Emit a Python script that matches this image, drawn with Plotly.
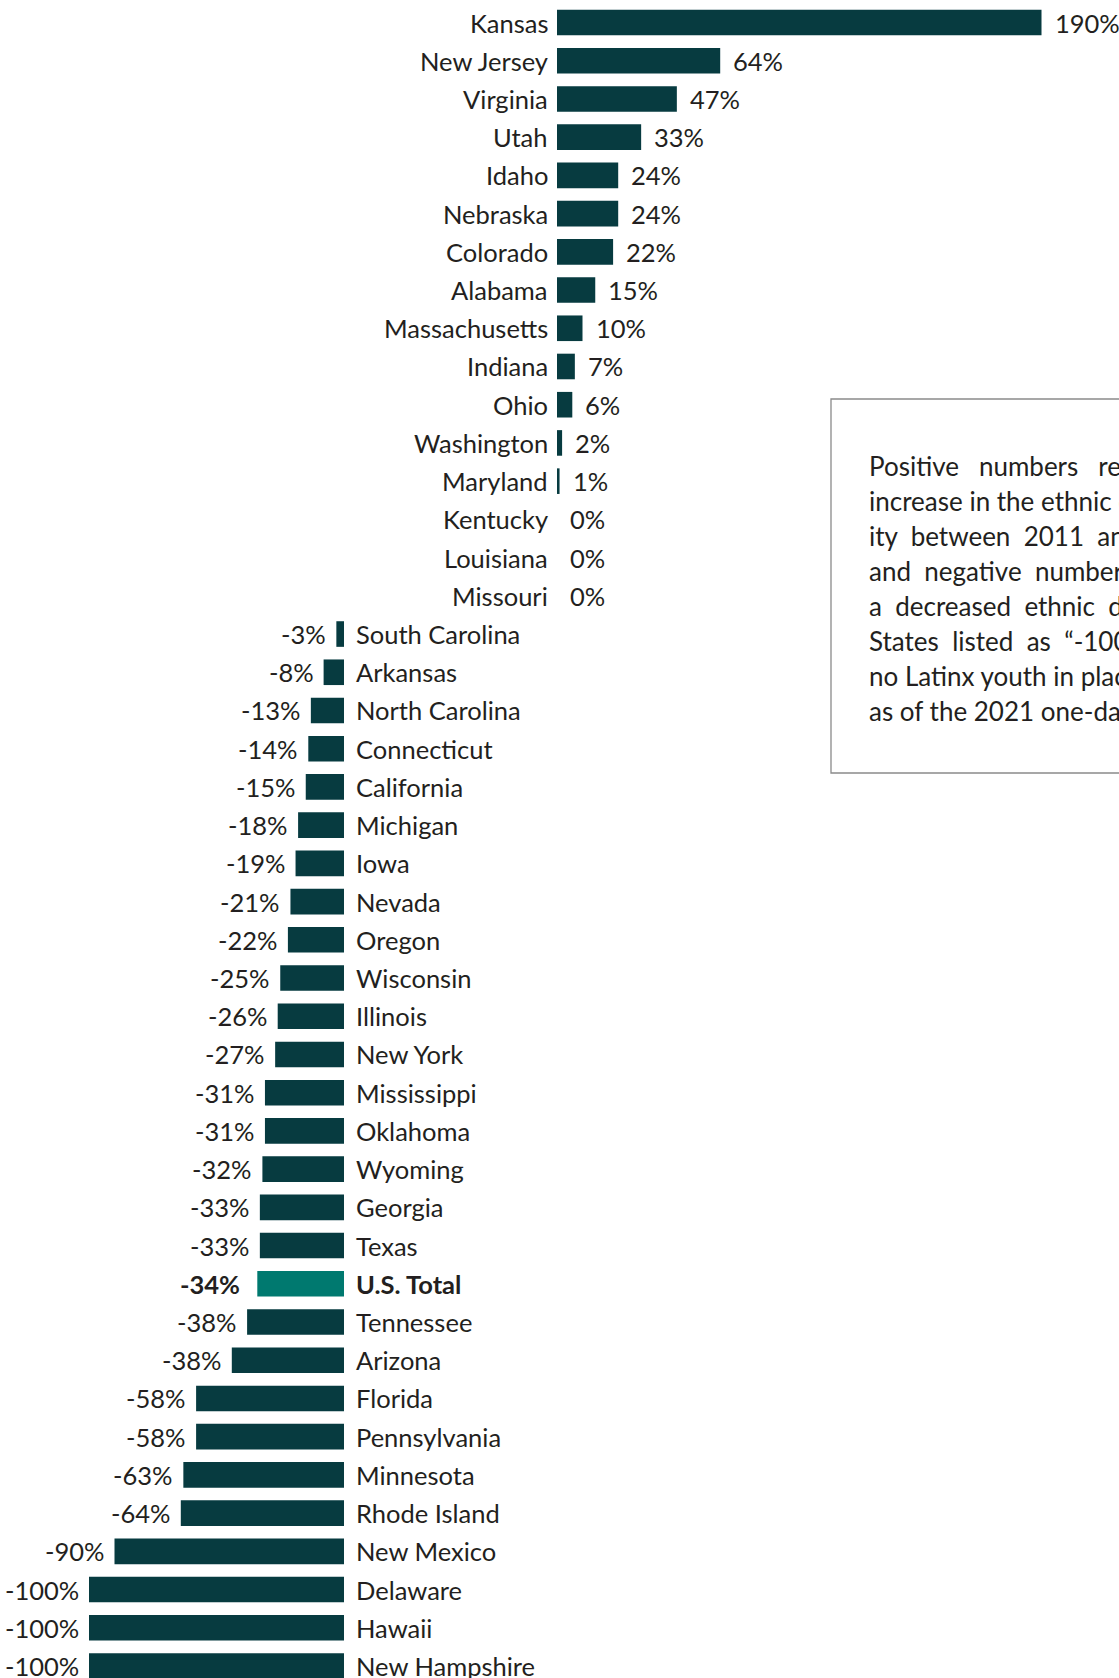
import plotly.graph_objects as go

# ---------------- data ----------------
states = ["Kansas", "New Jersey", "Virginia", "Utah", "Idaho", "Nebraska", "Colorado",
          "Alabama", "Massachusetts", "Indiana", "Ohio", "Washington", "Maryland",
          "Kentucky", "Louisiana", "Missouri",
          "South Carolina", "Arkansas", "North Carolina", "Connecticut", "California",
          "Michigan", "Iowa", "Nevada", "Oregon", "Wisconsin", "Illinois", "New York",
          "Mississippi", "Oklahoma", "Wyoming", "Georgia", "Texas", "U.S. Total",
          "Tennessee", "Arizona", "Florida", "Pennsylvania", "Minnesota", "Rhode Island",
          "New Mexico", "Delaware", "Hawaii", "New Hampshire"]
bar_values = [190, 64, 47, 33, 24, 24, 22, 15, 10, 7, 6, 2, 1, 0, 0, 0,
              -3, -8, -13, -14, -15, -18, -19, -21, -22, -25, -26, -27, -31, -31,
              -32, -33, -33, -34, -38, -44, -58, -58, -63, -64, -90, -100, -100, -100]
value_labels = ["190%", "64%", "47%", "33%", "24%", "24%", "22%", "15%", "10%", "7%",
                "6%", "2%", "1%", "0%", "0%", "0%",
                "-3%", "-8%", "-13%", "-14%", "-15%", "-18%", "-19%", "-21%", "-22%",
                "-25%", "-26%", "-27%", "-31%", "-31%", "-32%", "-33%", "-33%", "-34%",
                "-38%", "-38%", "-58%", "-58%", "-63%", "-64%", "-90%", "-100%",
                "-100%", "-100%"]
highlight = "U.S. Total"
NB = "\u00a0"
note_lines = [
    f"Positive{NB*2} numbers{NB*2} represent{NB*2} an",
    "increase in the ethnic dispar-",
    f"ity{NB} between{NB} 2011{NB} and{NB} 2021,",
    f"and{NB} negative{NB} numbers{NB} represent",
    f"a{NB} decreased{NB} ethnic{NB} disparity.",
    f"States{NB} listed{NB} as{NB} \u201c-100%\u201d{NB} had",
    "no Latinx youth in placement",
    "as of the 2021 one-day count.",
]

# ---------------- style ----------------
W, H = 1119, 1678
DARK = "#073b40"
TEAL = "#00796f"
TXT = "#231f20"
FONT = "Lato, Roboto, sans-serif"
FS = 25.5
FS_NOTE = 26

pos_idx = [i for i, v in enumerate(bar_values) if v >= 0 and i < 16]
neg_idx = [i for i in range(len(states)) if i not in pos_idx]

fig = go.Figure()
fig.add_trace(go.Bar(
    y=[states[i] for i in pos_idx], x=[bar_values[i] for i in pos_idx],
    orientation="h", xaxis="x", yaxis="y", width=0.67,
    marker=dict(color=DARK, line=dict(width=0)), hoverinfo="skip"))
fig.add_trace(go.Bar(
    y=[states[i] for i in neg_idx], x=[bar_values[i] for i in neg_idx],
    orientation="h", xaxis="x2", yaxis="y", width=0.67,
    marker=dict(color=[TEAL if states[i] == highlight else DARK for i in neg_idx],
                line=dict(width=0)), hoverinfo="skip"))

annotations = []
for i in pos_idx:
    annotations.append(dict(x=0, y=states[i], xref="x", yref="y", text=states[i],
                            xanchor="right", yanchor="middle", xshift=-7, showarrow=False,
                            font=dict(family=FONT, size=FS, color=TXT)))
    annotations.append(dict(x=bar_values[i], y=states[i], xref="x", yref="y",
                            text=value_labels[i], xanchor="left", yanchor="middle",
                            xshift=11, showarrow=False,
                            font=dict(family=FONT, size=FS, color=TXT)))
for i in neg_idx:
    bold = states[i] == highlight
    lab = f"<b>{states[i]}</b>" if bold else states[i]
    val = f"<b>{value_labels[i]}</b>" if bold else value_labels[i]
    annotations.append(dict(x=0, y=states[i], xref="x2", yref="y", text=lab,
                            xanchor="left", yanchor="middle", xshift=10, showarrow=False,
                            font=dict(family=FONT, size=FS, color=TXT)))
    annotations.append(dict(x=bar_values[i], y=states[i], xref="x2", yref="y",
                            text=val, xanchor="right", yanchor="middle",
                            xshift=-15 if bold else -8, showarrow=False,
                            font=dict(family=FONT, size=FS, color=TXT)))

# note box text
line_top, line_step = 466, 35
for k, line in enumerate(note_lines):
    annotations.append(dict(x=867 / W, y=1 - (line_top + k * line_step) / H,
                            xref="paper", yref="paper", text=line,
                            xanchor="left", yanchor="middle", showarrow=False,
                            font=dict(family=FONT, size=FS_NOTE, color=TXT)))

# axis ranges: px per percent
PPP = 2.55
zero_pos, zero_neg = 557, 344
n = len(states)
row_px = (1666 - 22.5) / (n - 1)
y_top = -22.5 / row_px
y_bot = (n - 1) + (H - 1666) / row_px

fig.update_layout(
    width=W, height=H,
    margin=dict(l=0, r=0, t=0, b=0),
    paper_bgcolor="white", plot_bgcolor="white",
    showlegend=False, barmode="overlay",
    xaxis=dict(range=[-zero_pos / PPP, (W - zero_pos) / PPP], visible=False,
               domain=[0, 1], fixedrange=True),
    xaxis2=dict(range=[-zero_neg / PPP, (W - zero_neg) / PPP], visible=False,
                overlaying="x", fixedrange=True),
    yaxis=dict(type="category", categoryorder="array", categoryarray=states,
               range=[y_bot, y_top], visible=False, fixedrange=True),
    annotations=annotations,
    shapes=[dict(type="rect", xref="paper", yref="paper",
                 x0=831 / W, x1=1.2, y0=1 - 773 / H, y1=1 - 399 / H,
                 line=dict(color="#8a8a8a", width=1.3), fillcolor="rgba(0,0,0,0)")],
)

fig.write_html("out.html")
